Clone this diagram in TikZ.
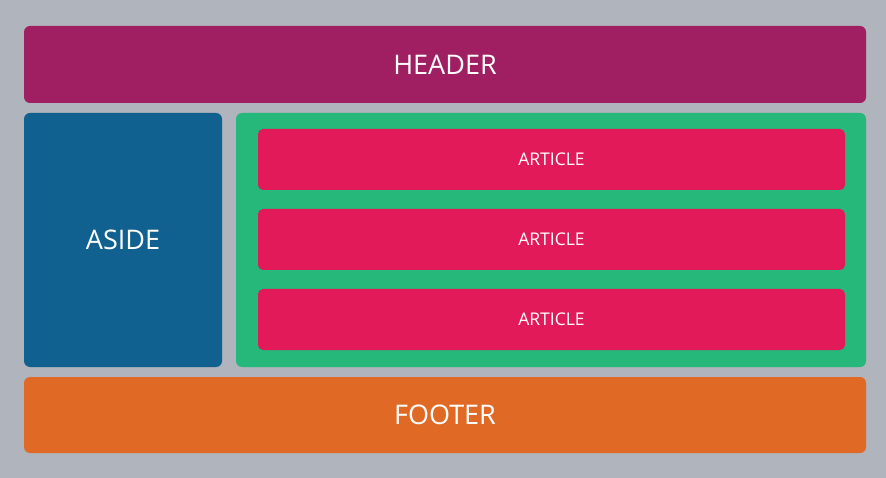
\documentclass[tikz,border=0pt]{standalone}
\usepackage{fontspec}
\setmainfont{Open Sans}
\definecolor{pagegray}{HTML}{B0B4BC}
\definecolor{headercol}{HTML}{A01F62}
\definecolor{asidecol}{HTML}{106090}
\definecolor{maincol}{HTML}{26B77A}
\definecolor{articlecol}{HTML}{E31A5A}
\definecolor{footercol}{HTML}{E06A25}
\begin{document}
\begin{tikzpicture}[x=1pt,y=-1pt,
	block/.style={rounded corners=6pt,inner sep=0pt,text=white,font=\fontsize{27}{27}\selectfont},
	articlebox/.style={block,rounded corners=5pt,fill=articlecol,minimum width=587pt,minimum height=61pt,font=\fontsize{17.5}{17.5}\selectfont}]
		\fill[pagegray] (0,0) rectangle (886,478);
		\useasboundingbox (0,0) rectangle (886,478);

		\node[block,fill=headercol,minimum width=842pt,minimum height=77pt](header) at (445,64.5) {HEADER};
		\node[block,fill=asidecol,minimum width=198pt,minimum height=254pt](aside) at (123,240) {ASIDE};
		\node[block,fill=maincol,minimum width=630pt,minimum height=254pt](main) at (551,240) {};
		\node[block,fill=footercol,minimum width=842pt,minimum height=76pt](footer) at (445,415) {FOOTER};

		\node[articlebox](a1) at (551.5,159.5) {ARTICLE};
		\node[articlebox](a2) at (551.5,239.5) {ARTICLE};
		\node[articlebox](a3) at (551.5,319.5) {ARTICLE};
	\end{tikzpicture}
\end{document}
